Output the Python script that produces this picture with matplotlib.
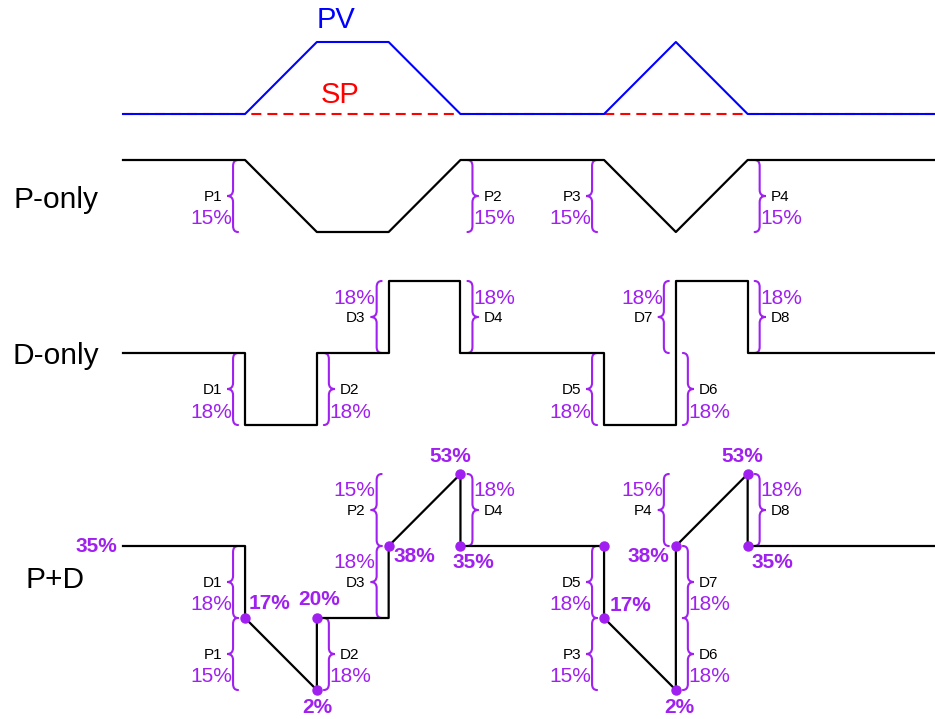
"""
PV / SP response of a P-only, D-only and P+D controller, with output braces.
"""
import matplotlib
matplotlib.use("Agg")
import matplotlib.pyplot as plt
from matplotlib.path import Path
from matplotlib.patches import PathPatch

plt.rcParams['font.family'] = ['Liberation Sans', 'DejaVu Sans']

PURPLE = '#a020f0'

# time breakpoints (one ramp = 1 time unit)
t = [0, 1.7, 2.7, 3.7, 4.7, 6.7, 7.7, 8.7, 11.3]
pv = [0, 0, 1, 1, 0, 0, 1, 0, 0]
sp = [0, 0, 0, 0, 0, 0, 0, 0, 0]
p_only = [0, 0, -1, -1, 0, 0, -1, 0, 0]
# D-only output level between breakpoints (step)
d_only = [0, -1, 0, 1, 0, -1, 1, 0, 0]

# P+D output trace
pd_t = [0, 1.7, 1.7, 2.7, 2.7, 3.7, 3.7, 4.7, 4.7, 6.7, 6.7, 7.7, 7.7, 8.7, 8.7, 11.3]
pd_level = [0, 0, -1, -2, -1, -1, 0, 1, 0, 0, -1, -2, 0, 1, 0, 0]

# marked points on P+D with their output value
dot_t = [1.7, 2.7, 2.7, 3.7, 4.7, 4.7, 6.7, 6.7, 7.7, 7.7, 8.7, 8.7]
dot_level = [-1, -2, -1, 0, 1, 0, 0, -1, -2, 0, 1, 0]
dot_pct = ['17%', '2%', '20%', '38%', '53%', '35%', '', '17%', '2%', '38%', '53%', '35%']
start_pct = '35%'

# braces: name, change, time, level a, level b, side (-1 left / 1 right), pct on top
p_braces = [('P1', '15%', 1.7, 0, -1, -1, False), ('P2', '15%', 4.7, 0, -1, 1, False),
            ('P3', '15%', 6.7, 0, -1, -1, False), ('P4', '15%', 8.7, 0, -1, 1, False)]
d_braces = [('D1', '18%', 1.7, 0, -1, -1, False), ('D2', '18%', 2.7, 0, -1, 1, False),
            ('D3', '18%', 3.7, 0, 1, -1, True), ('D4', '18%', 4.7, 0, 1, 1, True),
            ('D5', '18%', 6.7, 0, -1, -1, False), ('D6', '18%', 7.7, 0, -1, 1, False),
            ('D7', '18%', 7.7, 0, 1, -1, True), ('D8', '18%', 8.7, 0, 1, 1, True)]
pd_braces = [('D1', '18%', 1.7, 0, -1, -1, False), ('P1', '15%', 1.7, -1, -2, -1, False),
             ('D2', '18%', 2.7, -1, -2, 1, False), ('D3', '18%', 3.7, 0, -1, -1, True),
             ('P2', '15%', 3.7, 1, 0, -1, True), ('D4', '18%', 4.7, 1, 0, 1, True),
             ('D5', '18%', 6.7, 0, -1, -1, False), ('P3', '15%', 6.7, -1, -2, -1, False),
             ('D7', '18%', 7.7, 0, -1, 1, False), ('D6', '18%', 7.7, -1, -2, 1, False),
             ('P4', '15%', 7.7, 1, 0, -1, True), ('D8', '18%', 8.7, 1, 0, 1, True)]

# layout
W, H = 935, 719
X0, DT, DL = 123, 71.8, 72.0
base_pv, base_p, base_d, base_pd = -114 / DL, -160 / DL, -353 / DL, -546 / DL
PXT, PXL = 1 / DT, 1 / DL

# label offsets for dots (pixels: dx, dy downwards, alignment)
dot_off = [(4, -14, 'left'), (0, 18, 'center'), (2, -18, 'center'), (5, 10, 'left'),
           (-10, -18, 'center'), (13, 17, 'center'), (0, 0, 'center'), (6, -12, 'left'),
           (3, 18, 'center'), (-7, 11, 'right'), (-5, -18, 'center'), (25, 17, 'center')]

fig = plt.figure(figsize=(W / 100, H / 100), dpi=100)
ax = fig.add_axes([0, 0, 1, 1])
ax.set_xlim(-X0 / DT, (W - X0) / DT)
ax.set_ylim(-H / DL, 0)
ax.axis('off')


def brace(ax, tt, la, lb, side, base):
    y0, y1 = base + max(la, lb), base + min(la, lb)
    ym = (y0 + y1) / 2
    e, s, p, r = 7 * PXT * side, 12 * PXT * side, 18 * PXT * side, 6 * PXL
    verts = [(tt + e, y0), (tt + s, y0), (tt + s, y0 - r),
             (tt + s, ym + r),
             (tt + s, ym), (tt + p, ym),
             (tt + s, ym), (tt + s, ym - r),
             (tt + s, y1 + r),
             (tt + s, y1), (tt + e, y1)]
    codes = [Path.MOVETO, Path.CURVE3, Path.CURVE3, Path.LINETO, Path.CURVE3, Path.CURVE3,
             Path.CURVE3, Path.CURVE3, Path.LINETO, Path.CURVE3, Path.CURVE3]
    ax.add_patch(PathPatch(Path(verts, codes), fill=False, ec=PURPLE, lw=1.5,
                           capstyle='round', zorder=2))
    return ym


def draw_braces(ax, braces, base):
    for name, pct, tt, la, lb, side, pct_top in braces:
        ym = brace(ax, tt, la, lb, side, base)
        ha = 'right' if side < 0 else 'left'
        if pct_top:
            name_dy, pct_dy = 1, -19
        else:
            name_dy, pct_dy = 1, 23
        ax.annotate(name, (tt, ym), xytext=(side * 23, -name_dy), textcoords='offset pixels',
                    ha=ha, va='center', fontsize=11, color='black')
        ax.annotate(pct, (tt, ym), xytext=(side * 13, -pct_dy), textcoords='offset pixels',
                    ha=ha, va='center', fontsize=15, color=PURPLE)


# PV / SP
ax.plot(t, [base_pv + v for v in sp], color='red', lw=1.5, ls=(0, (4.8, 2.9)), zorder=1)
ax.plot(t, [base_pv + v for v in pv], color='blue', lw=1.5, zorder=2)
ax.text((336 - X0) / DT, base_pv + 1.3, 'PV', color='blue', fontsize=21, ha='center', va='center')
ax.text((340 - X0) / DT, base_pv + 0.26, 'SP', color='red', fontsize=21, ha='center', va='center')

# P-only
ax.plot(t, [base_p + v for v in p_only], color='black', lw=1.6, zorder=3)
draw_braces(ax, p_braces, base_p)

# D-only
ax.step(t, [base_d + v for v in d_only], where='post', color='black', lw=1.6, zorder=3)
draw_braces(ax, d_braces, base_d)

# P+D
ax.plot(pd_t, [base_pd + v for v in pd_level], color='black', lw=1.6, zorder=3)
ax.plot(dot_t, [base_pd + v for v in dot_level], ls='none', marker='o', ms=6.5,
        color=PURPLE, zorder=4)
draw_braces(ax, pd_braces, base_pd)
for tt, lv, lab, (dx, dy, ha) in zip(dot_t, dot_level, dot_pct, dot_off):
    ax.annotate(lab, (tt, base_pd + lv), xytext=(dx, -dy), textcoords='offset pixels',
                ha=ha, va='center', fontsize=15, fontweight='bold', color=PURPLE)
ax.annotate(start_pct, (t[0], base_pd + pd_level[0]), xytext=(-6, 0),
            textcoords='offset pixels', ha='right', va='center', fontsize=15,
            fontweight='bold', color=PURPLE)

# panel names
name_x = (55.5 - X0) / DT
ax.text(name_x, base_p - 0.556, 'P-only', fontsize=21.5, ha='center', va='center')
ax.text(name_x, base_d - 0.04, 'D-only', fontsize=21.5, ha='center', va='center')
ax.text(name_x, base_pd - 0.47, 'P+D', fontsize=21.5, ha='center', va='center')

fig.savefig('out.png', dpi=100)
